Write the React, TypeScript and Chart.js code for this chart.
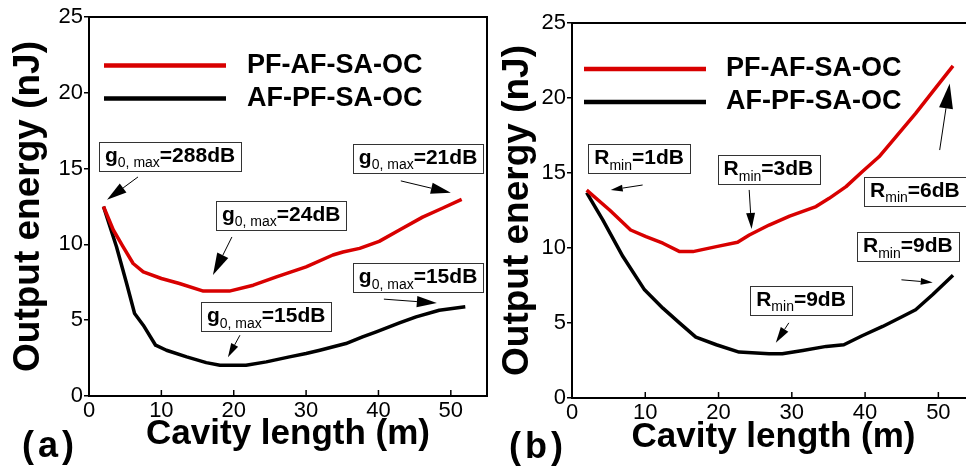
import React, { useEffect, useRef } from "react";
import { Chart, registerables } from "chart.js";

Chart.register(...registerables);

const FONT = "'Liberation Sans', Arial, Helvetica, sans-serif";
const RED = "#d80000";
const BLACK = "#000000";

const seriesLabels = ["PF-AF-SA-OC", "AF-PF-SA-OC"];
const xAxisTitle = "Cavity length (m)";
const yAxisTitle = "Output energy (nJ)";

// ---- Panel (a) data ----
const aRedX = [2, 3.36, 4.7, 6.1, 7.5, 10, 12.5, 15.8, 19.4, 22.7, 25.9, 30, 33.7, 35.1, 37.4, 40.1, 42.9, 46.1, 48.9, 51.5];
const aRedY = [12.5, 10.95, 9.85, 8.74, 8.19, 7.75, 7.42, 6.92, 6.92, 7.31, 7.86, 8.52, 9.3, 9.5, 9.74, 10.2, 10.95, 11.8, 12.4, 12.97];
const aBlackX = [2, 3.8, 5.2, 6.3, 7.5, 9.2, 10.7, 13.5, 16.2, 18.1, 21.7, 24.5, 27.7, 30, 31.9, 35.5, 37.8, 39.7, 42.9, 45.2, 48.4, 52];
const aBlackY = [12.5, 9.85, 7.42, 5.44, 4.67, 3.35, 3.02, 2.58, 2.2, 2.03, 2.03, 2.25, 2.58, 2.8, 3.02, 3.46, 3.9, 4.23, 4.82, 5.22, 5.66, 5.88];

// ---- Panel (b) data ----
const bRedX = [2, 5.13, 8.0, 10.1, 12.4, 14.7, 16.5, 19.7, 22.6, 24.2, 26.9, 29.7, 33.3, 35.1, 37.4, 39.6, 41.9, 44.2, 46.9, 49.2, 52];
const bRedY = [13.86, 12.53, 11.2, 10.76, 10.32, 9.76, 9.76, 10.09, 10.38, 10.87, 11.53, 12.13, 12.76, 13.31, 14.09, 15.08, 16.08, 17.41, 18.97, 20.41, 22.14];
const bBlackX = [2, 4.2, 6.95, 9.9, 12.4, 14.7, 16.9, 19.7, 22.8, 26.9, 28.7, 31.5, 34.7, 37.1, 39.6, 42.4, 45.1, 46.9, 49.2, 52];
const bBlackY = [13.69, 11.87, 9.43, 7.21, 5.99, 4.99, 4.06, 3.55, 3.06, 2.95, 2.95, 3.17, 3.44, 3.55, 4.15, 4.77, 5.43, 5.88, 6.88, 8.19];

// ---- Annotations (a): text ----
const aNoteMain = ["g", "g", "g", "g", "g"];
const aNoteSub = ["0, max", "0, max", "0, max", "0, max", "0, max"];
const aNoteRest = ["=288dB", "=24dB", "=21dB", "=15dB", "=15dB"];
// anchors in data units
const aBoxX = [1.38, 17.54, 36.46, 36.46, 15.47];
const aBoxY = [16.77, 12.87, 16.64, 8.77, 6.19];
const aFromX = [6.77, 19.75, 43.09, 40.75, 20.86];
const aFromY = [14.45, 10.49, 14.19, 6.39, 4.01];
const aToX = [2.49, 17.13, 50.0, 48.07, 19.2];
const aToY = [12.94, 7.98, 13.4, 6.13, 2.56];
const aHeads = [20, 22, 20, 20, 14];

// ---- Annotations (b) ----
const bNoteMain = ["R", "R", "R", "R", "R"];
const bNoteSub = ["min", "min", "min", "min", "min"];
const bNoteRest = ["=1dB", "=3dB", "=6dB", "=9dB", "=9dB"];
const bBoxX = [2.22, 19.87, 39.86, 38.9, 24.32];
const bBoxY = [16.93, 16.2, 14.75, 11.05, 7.48];
const bFromX = [9.64, 24.18, 50.18, 44.96, 29.59];
const bFromY = [14.2, 13.87, 16.53, 7.88, 5.01];
const bToX = [5.28, 24.51, 51.55, 49.23, 27.82];
const bToY = [13.87, 11.27, 20.97, 7.7, 3.68];
const bHeads = [12, 16, 25, 12, 16];

type PanelSpec = {
  redX: number[]; redY: number[]; blackX: number[]; blackY: number[];
  noteMain: string[]; noteSub: string[]; noteRest: string[];
  boxX: number[]; boxY: number[]; fromX: number[]; fromY: number[]; toX: number[]; toY: number[]; heads: number[];
  label: string; labelX: number; labelBase: number;
  padTop: number; padRight: number; xAxisHeight: number;
  yTitlePad: number; xTitlePad: number;
  legLineStart: number; legLineEnd: number; legText: number; legY0: number; legDy: number;
};

const panelA: PanelSpec = {
  redX: aRedX, redY: aRedY, blackX: aBlackX, blackY: aBlackY,
  noteMain: aNoteMain, noteSub: aNoteSub, noteRest: aNoteRest,
  boxX: aBoxX, boxY: aBoxY, fromX: aFromX, fromY: aFromY, toX: aToX, toY: aToY, heads: aHeads,
  label: "(a)", labelX: 22, labelBase: 457,
  padTop: 17, padRight: 3, xAxisHeight: 70,
  yTitlePad: 10, xTitlePad: 14,
  legLineStart: 15, legLineEnd: 137, legText: 158, legY0: 48.5, legDy: 33,
};

const panelB: PanelSpec = {
  redX: bRedX, redY: bRedY, blackX: bBlackX, blackY: bBlackY,
  noteMain: bNoteMain, noteSub: bNoteSub, noteRest: bNoteRest,
  boxX: bBoxX, boxY: bBoxY, fromX: bFromX, fromY: bFromY, toX: bToX, toY: bToY, heads: bHeads,
  label: "(b)", labelX: 26, labelBase: 458,
  padTop: 23, padRight: 1, xAxisHeight: 68,
  yTitlePad: 16, xTitlePad: 11,
  legLineStart: 12, legLineEnd: 134, legText: 154, legY0: 46, legDy: 33,
};

function drawArrow(ctx: CanvasRenderingContext2D, x1: number, y1: number, x2: number, y2: number, head: number) {
  const ang = Math.atan2(y2 - y1, x2 - x1);
  const hw = head * 0.28;
  const bx = x2 - head * Math.cos(ang);
  const by = y2 - head * Math.sin(ang);
  ctx.beginPath();
  ctx.moveTo(x1, y1);
  ctx.lineTo(bx, by);
  ctx.stroke();
  ctx.beginPath();
  ctx.moveTo(x2, y2);
  ctx.lineTo(bx + hw * Math.sin(ang), by - hw * Math.cos(ang));
  ctx.lineTo(bx - hw * Math.sin(ang), by + hw * Math.cos(ang));
  ctx.closePath();
  ctx.fill();
}

function makePlugin(spec: PanelSpec) {
  return {
    id: "panelDecor",
    afterDatasetsDraw(chart: any) {
      const ctx: CanvasRenderingContext2D = chart.ctx;
      const ca = chart.chartArea;
      const xs = chart.scales.x;
      const ys = chart.scales.y;
      ctx.save();
      // frame top & right
      ctx.strokeStyle = "#000";
      ctx.lineWidth = 2;
      ctx.beginPath();
      ctx.moveTo(ca.left, ca.top);
      ctx.lineTo(ca.right, ca.top);
      ctx.lineTo(ca.right, ca.bottom);
      ctx.stroke();
      // inward x ticks
      ctx.lineWidth = 1.5;
      for (const t of xs.ticks) {
        const px = xs.getPixelForValue(t.value);
        if (px <= ca.left + 2 || px >= ca.right - 2) continue;
        ctx.beginPath();
        ctx.moveTo(px, ca.bottom);
        ctx.lineTo(px, ca.bottom - 6);
        ctx.stroke();
      }
      // legend
      chart.data.datasets.forEach((ds: any, i: number) => {
        const y = ca.top + spec.legY0 + i * spec.legDy;
        ctx.strokeStyle = ds.borderColor;
        ctx.lineWidth = 4.5;
        ctx.beginPath();
        ctx.moveTo(ca.left + spec.legLineStart, y);
        ctx.lineTo(ca.left + spec.legLineEnd, y);
        ctx.stroke();
        ctx.fillStyle = "#000";
        ctx.font = `bold 27px ${FONT}`;
        ctx.textBaseline = "middle";
        ctx.textAlign = "left";
        ctx.fillText(ds.label, ca.left + spec.legText, y);
      });
      // annotations
      const mainFont = `bold 21px ${FONT}`;
      const subFont = `14px ${FONT}`;
      for (let i = 0; i < spec.noteMain.length; i++) {
        const bx = xs.getPixelForValue(spec.boxX[i]);
        const by = ys.getPixelForValue(spec.boxY[i]);
        ctx.font = mainFont;
        const w1 = ctx.measureText(spec.noteMain[i]).width;
        const w3 = ctx.measureText(spec.noteRest[i]).width;
        ctx.font = subFont;
        const w2 = ctx.measureText(spec.noteSub[i]).width;
        const padX = 6;
        const bw = w1 + w2 + w3 + 2 * padX;
        const bh = 29;
        ctx.fillStyle = "#fff";
        ctx.fillRect(bx, by, bw, bh);
        ctx.strokeStyle = "#333";
        ctx.lineWidth = 1;
        ctx.strokeRect(Math.round(bx) + 0.5, Math.round(by) + 0.5, Math.round(bw), bh);
        ctx.fillStyle = "#000";
        ctx.textBaseline = "alphabetic";
        ctx.textAlign = "left";
        const base = by + 20;
        ctx.font = mainFont;
        ctx.fillText(spec.noteMain[i], bx + padX, base);
        ctx.font = subFont;
        ctx.fillText(spec.noteSub[i], bx + padX + w1, base + 5.5);
        ctx.font = mainFont;
        ctx.fillText(spec.noteRest[i], bx + padX + w1 + w2, base);
        // arrow
        ctx.strokeStyle = "#000";
        ctx.fillStyle = "#000";
        ctx.lineWidth = 1;
        drawArrow(
          ctx,
          xs.getPixelForValue(spec.fromX[i]), ys.getPixelForValue(spec.fromY[i]),
          xs.getPixelForValue(spec.toX[i]), ys.getPixelForValue(spec.toY[i]),
          spec.heads[i]
        );
      }
      // panel label
      ctx.fillStyle = "#000";
      ctx.font = `bold 36px ${FONT}`;
      ctx.textBaseline = "alphabetic";
      ctx.textAlign = "left";
      (ctx as any).letterSpacing = "4px";
      ctx.fillText(spec.label, spec.labelX, spec.labelBase);
      (ctx as any).letterSpacing = "0px";
      ctx.restore();
    },
  };
}

function zip(xs: number[], ys: number[]) {
  return xs.map((x, i) => ({ x, y: ys[i] }));
}

function makeConfig(spec: PanelSpec): any {
  const tickFont = { family: FONT, size: 22, lineHeight: 1.2 };
  return {
    type: "line",
    data: {
      datasets: [
        { label: seriesLabels[0], data: zip(spec.redX, spec.redY), borderColor: RED, backgroundColor: RED, borderWidth: 3.5, pointRadius: 0, tension: 0, fill: false, borderJoinStyle: "round" },
        { label: seriesLabels[1], data: zip(spec.blackX, spec.blackY), borderColor: BLACK, backgroundColor: BLACK, borderWidth: 3.5, pointRadius: 0, tension: 0, fill: false, borderJoinStyle: "round" },
      ],
    },
    options: {
      animation: false,
      responsive: false,
      maintainAspectRatio: false,
      layout: { padding: { top: spec.padTop, right: spec.padRight, left: 0, bottom: 0 } },
      plugins: { legend: { display: false }, tooltip: { enabled: false }, title: { display: false } },
      scales: {
        x: {
          type: "linear",
          min: 0,
          max: 55,
          afterFit: (s: any) => { s.height = spec.xAxisHeight; },
          ticks: { stepSize: 10, includeBounds: false, font: tickFont, color: "#000", padding: 2, maxRotation: 0, autoSkip: false,
            callback: (v: number) => (v <= 50 ? String(v) : "") },
          grid: { display: true, drawOnChartArea: false, drawTicks: false },
          border: { display: true, color: "#000", width: 2 },
          title: { display: true, text: xAxisTitle, color: "#000", font: { family: FONT, size: 35, weight: "bold", lineHeight: 1 }, padding: { top: 0, bottom: spec.xTitlePad } },
        },
        y: {
          type: "linear",
          min: 0,
          max: 25,
          afterFit: (s: any) => { s.width = 89; },
          ticks: { stepSize: 5, font: tickFont, color: "#000", padding: 1 },
          grid: { display: true, drawOnChartArea: false, drawTicks: true, tickLength: 5, color: "#000", lineWidth: 1.5 },
          border: { display: true, color: "#000", width: 2 },
          title: { display: true, text: yAxisTitle, color: "#000", font: { family: FONT, size: 37, weight: "bold", lineHeight: 1 }, padding: { top: spec.yTitlePad, bottom: 0 } },
        },
      },
    },
    plugins: [makePlugin(spec)],
  };
}

function Panel({ spec, left, width }: { spec: PanelSpec; left: number; width: number }) {
  const ref = useRef<HTMLCanvasElement>(null);
  useEffect(() => {
    const chart = new Chart(ref.current as HTMLCanvasElement, makeConfig(spec));
    return () => chart.destroy();
  }, [spec]);
  return (
    <canvas
      ref={ref}
      width={width}
      height={466}
      style={{ position: "absolute", left, top: 0, width, height: 466 }}
    />
  );
}

export default function App() {
  return (
    <div style={{ position: "fixed", left: 0, top: 0, width: 966, height: 466, overflow: "hidden", background: "#fff" }}>
      <Panel spec={panelA} left={0} width={490} />
      <Panel spec={panelB} left={483} width={493} />
    </div>
  );
}
